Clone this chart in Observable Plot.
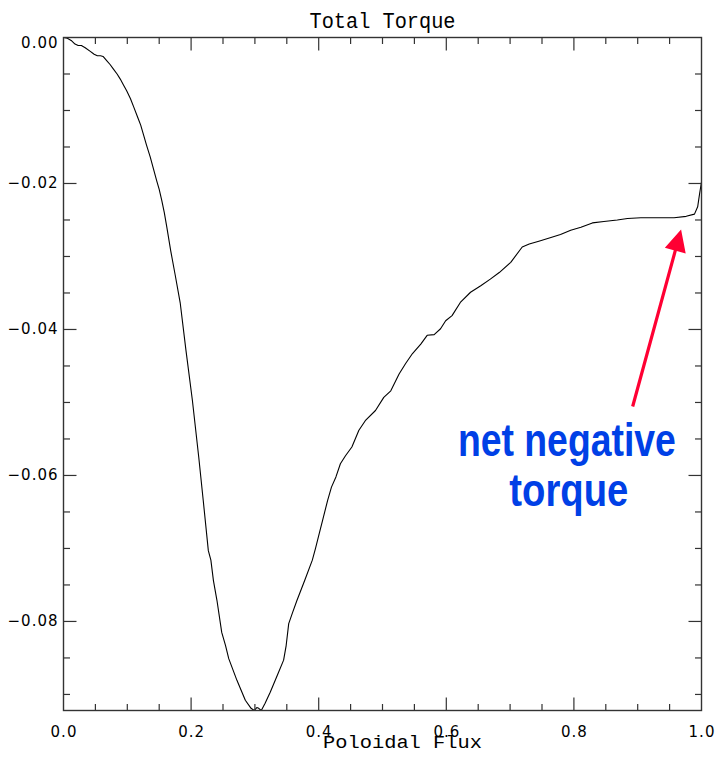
<!DOCTYPE html>
<html>
<head>
<meta charset="utf-8">
<script src="https://cdn.jsdelivr.net/npm/d3@7"></script>
<script src="https://cdn.jsdelivr.net/npm/@observablehq/plot@0.6"></script>
<style>
  html, body { margin: 0; padding: 0; background: #fff; }
</style>
</head>
<body>
<div id="chart"></div>
<script>
// ---- data ----
const flux = [0, 0.006, 0.012, 0.018, 0.023, 0.028, 0.034, 0.042, 0.048, 0.053, 0.058, 0.062, 0.068, 0.073, 0.078,
  0.084, 0.089, 0.094, 0.099, 0.105, 0.110, 0.117, 0.121, 0.125, 0.130, 0.136, 0.141, 0.146, 0.150, 0.154, 0.158,
  0.162, 0.168, 0.175, 0.183, 0.192, 0.202, 0.212, 0.219, 0.227, 0.231, 0.235, 0.2405, 0.248, 0.254, 0.259, 0.272,
  0.285, 0.294, 0.299, 0.303, 0.306, 0.310, 0.316, 0.324, 0.335, 0.345, 0.349, 0.353, 0.359, 0.366, 0.378, 0.390,
  0.395, 0.401, 0.406, 0.414, 0.420, 0.427, 0.434, 0.442, 0.452, 0.463, 0.473, 0.489, 0.502, 0.513, 0.526, 0.536,
  0.547, 0.560, 0.570, 0.581, 0.591, 0.599, 0.609, 0.622, 0.638, 0.654, 0.669, 0.683, 0.701, 0.719, 0.730, 0.745,
  0.764, 0.779, 0.795, 0.811, 0.829, 0.847, 0.868, 0.884, 0.905, 0.931, 0.957, 0.976, 0.989, 0.994, 0.997, 1.000];
const torque = [0, -0.0001, -0.0004, -0.0009, -0.0011, -0.0011, -0.0014, -0.0019, -0.0023, -0.0025, -0.0025, -0.0026,
  -0.0032, -0.0037, -0.0043, -0.0050, -0.0057, -0.0065, -0.0073, -0.0084, -0.0095, -0.0111, -0.0120, -0.0132, -0.0147,
  -0.0164, -0.0180, -0.0196, -0.0208, -0.0223, -0.0240, -0.0260, -0.0292, -0.0325, -0.0364, -0.0429, -0.0497, -0.0575,
  -0.0634, -0.0703, -0.0716, -0.0744, -0.0771, -0.0815, -0.0833, -0.0851, -0.0881, -0.0908, -0.0919, -0.0922, -0.0918,
  -0.0919, -0.0922, -0.0912, -0.0897, -0.0874, -0.0853, -0.0833, -0.0803, -0.0788, -0.0771, -0.0744, -0.0716, -0.0700,
  -0.0679, -0.0662, -0.0634, -0.0616, -0.0602, -0.0584, -0.0573, -0.0561, -0.0538, -0.0525, -0.0511, -0.0493, -0.0484,
  -0.0461, -0.0447, -0.0433, -0.0420, -0.0408, -0.0407, -0.0399, -0.0388, -0.0381, -0.0363, -0.0349, -0.0340, -0.0331,
  -0.0322, -0.0308, -0.0287, -0.0283, -0.0279, -0.0274, -0.0270, -0.0264, -0.0260, -0.0254, -0.0252, -0.0250, -0.0248,
  -0.0247, -0.0247, -0.0247, -0.0245, -0.0242, -0.0232, -0.0214, -0.0198];

const xDomain = [0, 1];
const yDomain = [-0.0922, 0];

const xLabelTicks = [0, 0.2, 0.4, 0.6, 0.8, 1.0];
const xMajorTicks = [0.2, 0.4, 0.6, 0.8];
const xMinorTicks = [0.05, 0.1, 0.15, 0.25, 0.3, 0.35, 0.45, 0.5, 0.55, 0.65, 0.7, 0.75, 0.85, 0.9, 0.95];
const yTopLabel = [0];
const yLabelTicks = [-0.02, -0.04, -0.06, -0.08];
const yMajorTicks = [-0.02, -0.04, -0.06, -0.08];
const yMinorTicks = [-0.005, -0.01, -0.015, -0.025, -0.03, -0.035, -0.045, -0.05, -0.055, -0.065, -0.07, -0.075, -0.085, -0.09];

const titleText = "Total Torque";
const xLabelText = "Poloidal Flux";
const noteLine1 = "net negative";
const noteLine2 = "torque";
// annotation anchor points in data space
const noteX = [0.789, 0.792];
const noteY = [-0.0573, -0.0642];
const arrowTip = {x: 0.968, y: -0.0263};

// ---- drawing ----
const axisColor = "#333";
const tickShape = {draw(ctx, l) { ctx.moveTo(0, 0); ctx.lineTo(0, -l); }};
const arrowShape = {
  draw(ctx, l) {
    const h = 22, w = 10.8, s = 1.6;
    ctx.moveTo(-s, 0);
    ctx.lineTo(-s, -l + h);
    ctx.lineTo(-w, -l + h);
    ctx.lineTo(0, -l);
    ctx.lineTo(w, -l + h);
    ctx.lineTo(s, -l + h);
    ctx.lineTo(s, 0);
    ctx.closePath();
  }
};
const tickOpts = {shape: tickShape, anchor: "start", stroke: axisColor, strokeWidth: 1.2, strokeLinecap: "butt"};
const fmt = d => d === 0 ? "0.00" : "\u2212" + Math.abs(d).toFixed(2);
const fmtX = d => d.toFixed(1);
const idx = d3.range(flux.length);

const chart = Plot.plot({
  width: 715,
  height: 761,
  marginLeft: 63,
  marginRight: 14,
  marginTop: 37,
  marginBottom: 51,
  style: {background: "#fff", color: "#000", overflow: "visible"},
  x: {domain: xDomain, axis: null},
  y: {domain: yDomain, axis: null},
  marks: [
    Plot.line(idx, {x: i => flux[i], y: i => torque[i], stroke: "#000", strokeWidth: 1.1}),
    Plot.frame({stroke: axisColor, strokeWidth: 1.4}),
    // inward ticks
    Plot.vector(xMajorTicks, {...tickOpts, x: d => d, y: yDomain[0], length: 13, rotate: 0}),
    Plot.vector(xMinorTicks, {...tickOpts, x: d => d, y: yDomain[0], length: 6.5, rotate: 0}),
    Plot.vector(xMajorTicks, {...tickOpts, x: d => d, y: yDomain[1], length: 13, rotate: 180}),
    Plot.vector(xMinorTicks, {...tickOpts, x: d => d, y: yDomain[1], length: 6.5, rotate: 180}),
    Plot.vector(yMajorTicks, {...tickOpts, x: xDomain[0], y: d => d, length: 13, rotate: 90}),
    Plot.vector(yMinorTicks, {...tickOpts, x: xDomain[0], y: d => d, length: 6.5, rotate: 90}),
    Plot.vector(yMajorTicks, {...tickOpts, x: xDomain[1], y: d => d, length: 13, rotate: -90}),
    Plot.vector(yMinorTicks, {...tickOpts, x: xDomain[1], y: d => d, length: 6.5, rotate: -90}),
    // tick labels
    Plot.text(xLabelTicks, {x: d => d, frameAnchor: "bottom", text: fmtX, lineAnchor: "bottom", dy: 26, dx: 0.5,
      className: "tl"}),
    Plot.text(yLabelTicks, {y: d => d, frameAnchor: "left", text: fmt, textAnchor: "end", lineAnchor: "middle", dx: -5,
      className: "tl"}),
    Plot.text(yTopLabel, {y: d => d, frameAnchor: "left", text: fmt, textAnchor: "end", lineAnchor: "middle", dx: -5, dy: 6,
      className: "tl"}),
    // title and axis label
    Plot.text([titleText], {frameAnchor: "top", text: d => d, lineAnchor: "bottom", dy: -10, fontSize: 22,
      fontFamily: "'Liberation Mono', 'Courier New', monospace", fill: "#000", className: "ttl"}),
    Plot.text([xLabelText], {frameAnchor: "bottom", text: d => d, lineAnchor: "bottom", dy: 37.5, dx: 20, fontSize: 18,
      fontFamily: "'Liberation Mono', 'Courier New', monospace", fill: "#000", className: "xlab"}),
    // annotation
    Plot.vector([arrowTip], {x: "x", y: "y", anchor: "end", length: 183.5, rotate: 15.3, shape: arrowShape,
      fill: "#ff0033", stroke: "none"}),
    Plot.text([noteLine1], {x: noteX[0], y: noteY[0], text: d => d, lineAnchor: "bottom", textAnchor: "middle",
      fontSize: 47, fontWeight: "bold", fontFamily: "'Liberation Sans', Arial, sans-serif", fill: "#0040e6", className: "note1"}),
    Plot.text([noteLine2], {x: noteX[1], y: noteY[1], text: d => d, lineAnchor: "bottom", textAnchor: "middle",
      fontSize: 47, fontWeight: "bold", fontFamily: "'Liberation Sans', Arial, sans-serif", fill: "#0040e6", className: "note2"})
  ]
});

chart.querySelectorAll(".tl text").forEach(t => {
  t.style.fontSize = "15px";
  t.style.fontFamily = "'DejaVu Sans', 'Liberation Sans', sans-serif";
  t.style.letterSpacing = "1px";
  t.style.fill = "#000";
});
const setLen = (cls, len) => chart.querySelectorAll("." + cls + " text").forEach(t => {
  t.setAttribute("textLength", len);
  t.setAttribute("lengthAdjust", "spacingAndGlyphs");
});
setLen("ttl", 146);
setLen("xlab", 159);
setLen("note1", 218);
setLen("note2", 119);

document.getElementById("chart").appendChild(chart);
</script>
</body>
</html>
